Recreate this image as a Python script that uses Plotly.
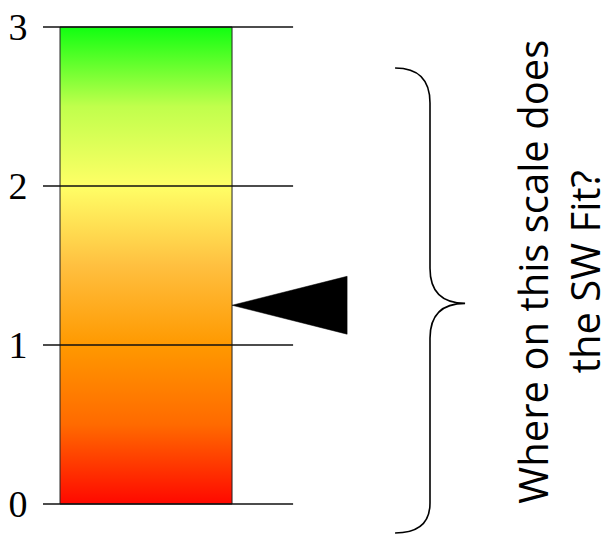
import plotly.graph_objects as go

# ---- data ----
tick_values = [0, 1, 2, 3]
tick_labels = ["0", "1", "2", "3"]
scale_min = 0
scale_max = 3
pointer_value = 1.25          # where the arrow points
pointer_half_height = 0.182
# gradient colour stops (scale value -> colour)
grad_values = [0, 0.5, 1, 1.5, 2, 2.5, 3]
grad_colors = ["#ff0800", "#ff6a00", "#ff9900", "#ffc040", "#ffff66", "#c0ff4c", "#11ff11"]
# brace extent (in scale units)
brace_top = 2.742
brace_bottom = -0.182
brace_mid = 1.262
question = "Where on this scale does<br>the SW Fit?"
question_center = 1.46

# ---- layout constants (x in bar-width units: bar spans 0..1) ----
bar_left, bar_right = 0.0, 1.0
line_left, line_right = -0.099, 1.355
ptr_back = 1.669
brace_end_x, brace_stem_x, brace_tip_x = 1.948, 2.151, 2.355
text_x = 2.90

span = grad_values[-1] - grad_values[0]
colorscale = [[(v - grad_values[0]) / span, c] for v, c in zip(grad_values, grad_colors)]

fig = go.Figure()

# gradient bar
fig.add_trace(go.Scatter(
    x=[bar_left, bar_right, bar_right, bar_left, bar_left],
    y=[scale_min, scale_min, scale_max, scale_max, scale_min],
    mode="lines", fill="toself",
    fillgradient=dict(type="vertical", colorscale=colorscale,
                      start=scale_min, stop=scale_max),
    line=dict(color="#222222", width=1),
    hoverinfo="skip", showlegend=False,
))

# horizontal level lines
lx, ly = [], []
for v in tick_values:
    lx += [line_left, line_right, None]
    ly += [v, v, None]
fig.add_trace(go.Scatter(x=lx, y=ly, mode="lines",
                         line=dict(color="#111111", width=1.6),
                         hoverinfo="skip", showlegend=False))

# pointer triangle
fig.add_trace(go.Scatter(
    x=[bar_right, ptr_back, ptr_back, bar_right],
    y=[pointer_value, pointer_value + pointer_half_height,
       pointer_value - pointer_half_height, pointer_value],
    mode="lines", fill="toself", fillcolor="black",
    line=dict(color="black", width=0.5),
    hoverinfo="skip", showlegend=False,
))

# curly brace
h = 0.22  # curl height in scale units
path = (
    f"M {brace_end_x},{brace_top} "
    f"Q {brace_stem_x},{brace_top} {brace_stem_x},{brace_top - h} "
    f"L {brace_stem_x},{brace_mid + h} "
    f"Q {brace_stem_x},{brace_mid} {brace_tip_x},{brace_mid} "
    f"Q {brace_stem_x},{brace_mid} {brace_stem_x},{brace_mid - h} "
    f"L {brace_stem_x},{brace_bottom + 0.188} "
    f"Q {brace_stem_x},{brace_bottom} {brace_end_x},{brace_bottom}"
)
fig.add_shape(type="path", path=path, xref="x", yref="y",
              line=dict(color="black", width=1.6))

# rotated question text
fig.add_annotation(x=text_x, y=question_center,
                   xref="x", yref="y", text=question, showarrow=False,
                   textangle=-90, xanchor="center", yanchor="middle",
                   font=dict(family="Open Sans", size=40, color="black"))

px_per_unit_y = 159.0
px_per_unit_x = 172.0
fig.update_layout(
    width=613, height=536,
    margin=dict(l=43, r=0, t=0, b=0, pad=0),
    paper_bgcolor="white", plot_bgcolor="white",
    xaxis=dict(range=[line_left, line_left + 570 / px_per_unit_x],
               visible=False, fixedrange=True),
    yaxis=dict(range=[scale_min - 32 / px_per_unit_y, scale_max + 27 / px_per_unit_y],
               tickvals=tick_values, ticktext=tick_labels,
               ticks="outside", ticklen=7, tickcolor="rgba(0,0,0,0)",
               showgrid=False, zeroline=False, showline=False,
               tickfont=dict(family="Liberation Serif", size=38, color="black"),
               fixedrange=True),
    showlegend=False,
)

fig.write_html("out.html", config={"displayModeBar": False},
               post_script="document.body.style.margin='0';document.body.style.overflow='hidden';")
